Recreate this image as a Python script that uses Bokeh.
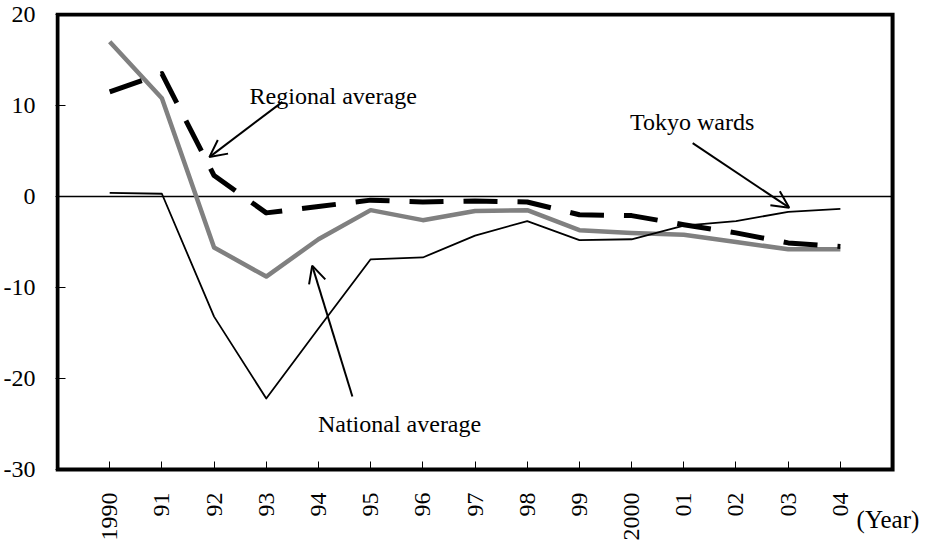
import math
from bokeh.plotting import figure
from bokeh.models import Range1d, FixedTicker, Label, Arrow, OpenHead
from bokeh.embed import file_html
from bokeh.resources import INLINE

# ---- data ----
year_labels = ["1990", "91", "92", "93", "94", "95", "96", "97", "98", "99",
               "2000", "01", "02", "03", "04"]
national_avg = [17.0, 10.8, -5.6, -8.8, -4.7, -1.5, -2.6, -1.6, -1.5, -3.7,
                -4.0, -4.2, -5.0, -5.8, -5.8]
regional_avg = [11.5, 13.5, 2.3, -1.8, -1.1, -0.4, -0.6, -0.5, -0.6, -2.0,
                -2.1, -3.1, -4.0, -5.1, -5.5]
tokyo_wards = [0.4, 0.3, -13.2, -22.2, -14.5, -6.9, -6.7, -4.3, -2.7, -4.8,
               -4.7, -3.2, -2.7, -1.7, -1.35]
y_ticks = [-30, -20, -10, 0, 10, 20]
y_tick_labels = ["-30", "-20", "-10", "0", "10", "20"]

x = list(range(len(year_labels)))
FONT = "Liberation Serif"

# plot box (the thick frame) in data units
x_lo, x_hi = -1, len(year_labels)
y_lo, y_hi = y_ticks[0], y_ticks[-1]

# layout in pixels
W, H = 925, 543
BOX_L, BOX_R, BOX_T, BOX_B = 55, 892, 14, 469
FR_L, FR_T = 53, 12           # frame a bit larger than box so the border is not clipped
xpx = (BOX_R - BOX_L) / (x_hi - x_lo)
ypx = (BOX_B - BOX_T) / (y_hi - y_lo)
x_start = x_lo - (BOX_L - FR_L) / xpx
x_end = x_hi + (W - BOX_R) / xpx
y_end = y_hi + (BOX_T - FR_T) / ypx
y_start = y_lo - (H - BOX_B) / ypx

p = figure(width=W, height=H, output_backend="svg", toolbar_location=None,
           x_range=Range1d(x_start, x_end), y_range=Range1d(y_start, y_end),
           min_border_left=FR_L, min_border_right=0, min_border_top=FR_T,
           min_border_bottom=0)

p.background_fill_color = "white"
p.border_fill_color = "white"
p.outline_line_color = None
p.xgrid.visible = False
p.ygrid.visible = False

# axes
xa, ya = p.xaxis[0], p.yaxis[0]
xa.fixed_location = y_lo
xa.ticker = FixedTicker(ticks=x)
xa.major_label_overrides = {i: lab for i, lab in enumerate(year_labels)}
xa.major_label_orientation = math.pi / 2
ya.ticker = FixedTicker(ticks=y_ticks)
ya.major_label_overrides = {t: s for t, s in zip(y_ticks, y_tick_labels)}
for ax in (xa, ya):
    ax.axis_line_color = None
    ax.major_tick_out = 0
    ax.minor_tick_line_color = None
    ax.major_tick_line_color = "black"
    ax.major_tick_line_width = 1
    ax.major_label_text_font = FONT
    ax.major_label_text_font_size = "24px"
    ax.major_label_text_color = "black"
xa.major_tick_in = 8
ya.major_tick_in = 10
xa.major_label_standoff = 23
ya.major_label_standoff = 20

# thick box around the plotting area
p.quad(left=x_lo, right=x_hi, bottom=y_lo, top=y_hi, fill_color=None,
       line_color="black", line_width=4, line_join="miter")
# zero line
p.segment(x0=x_lo, x1=x_hi, y0=0, y1=0, line_color="black", line_width=1.5)

# series
p.line(x, national_avg, line_color="#808080", line_width=4.5, line_join="round")
p.line(x, regional_avg, line_color="black", line_width=5, line_dash="34 20",
       line_join="round")
p.line(x, tokyo_wards, line_color="black", line_width=1.8, line_join="round")

# annotations
def arrow(xs, ys, xe, ye):
    p.add_layout(Arrow(end=OpenHead(size=17, line_width=2, line_color="black"),
                       x_start=xs, y_start=ys, x_end=xe, y_end=ye,
                       line_width=2, line_color="black"))

arrow(3.31, 10.4, 1.91, 4.33)
arrow(4.65, -21.97, 3.88, -7.6)
arrow(11.17, 5.86, 13.02, -1.23)

def label(xv, yv, txt, baseline="alphabetic", size="24px"):
    p.add_layout(Label(x=xv, y=yv, text=txt, text_font=FONT,
                       text_font_size=size, text_color="black",
                       text_baseline=baseline, text_align="left"))

label(2.68, 11.0, "Regional average")
label(9.97, 8.2, "Tokyo wards")
label(3.99, -25.0, "National average")
label(14.31, -35.5, "(Year)", baseline="middle", size="25px")

open("out.html", "w").write(file_html(p, INLINE))
